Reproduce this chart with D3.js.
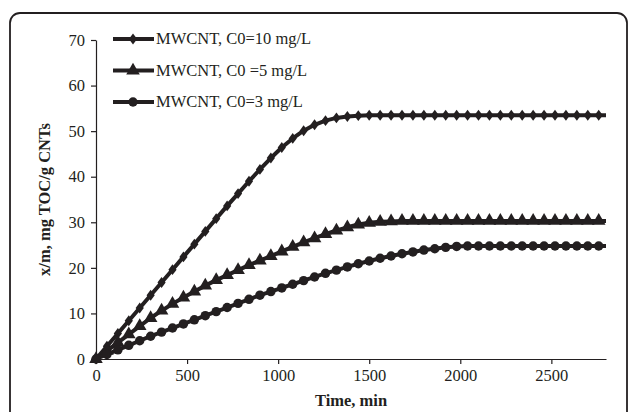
<!DOCTYPE html>
<html>
<head>
<meta charset="utf-8">
<script src="https://cdn.jsdelivr.net/npm/d3@7"></script>
<style>
  body { margin: 0; background: #fff; }
  text { font-family: "Liberation Serif", "Times New Roman", serif; fill: #231f20; }
</style>
</head>
<body>
<div class="chart"></div>
<script>
// sampling times, min (every 60 min)
const times = d3.range(0, 2761, 60);
const xEnd = 2800;

const c10 = [0, 2.8, 5.6, 8.4, 11.2, 14.0, 16.8, 19.6, 22.4, 25.2, 28.0, 30.8, 33.6, 36.3, 39.0, 41.6,
  44.1, 46.4, 48.4, 50.1, 51.4, 52.3, 52.9, 53.2, 53.4, 53.5, 53.5, 53.5, 53.5, 53.5, 53.5, 53.5,
  53.5, 53.5, 53.5, 53.5, 53.5, 53.5, 53.5, 53.5, 53.5, 53.5, 53.5, 53.5, 53.5, 53.5, 53.5];
const c5 = [0, 1.8, 3.6, 5.4, 7.2, 9.0, 10.6, 12.1, 13.5, 14.8, 16.1, 17.3, 18.4, 19.5, 20.6, 21.6,
  22.6, 23.6, 24.6, 25.6, 26.5, 27.4, 28.2, 28.9, 29.5, 29.9, 30.1, 30.2, 30.3, 30.3, 30.3, 30.3,
  30.3, 30.3, 30.3, 30.3, 30.3, 30.3, 30.3, 30.3, 30.3, 30.3, 30.3, 30.3, 30.3, 30.3, 30.3];
const c3 = [0, 1.0, 2.0, 3.0, 4.0, 5.0, 5.9, 6.8, 7.7, 8.6, 9.5, 10.4, 11.3, 12.2, 13.1, 14.0,
  14.8, 15.6, 16.4, 17.2, 18.0, 18.8, 19.5, 20.2, 20.9, 21.5, 22.1, 22.6, 23.1, 23.5, 23.9, 24.2,
  24.5, 24.7, 24.8, 24.8, 24.8, 24.8, 24.8, 24.8, 24.8, 24.8, 24.8, 24.8, 24.8, 24.8, 24.8];

const seriesNames = ["MWCNT, C0=10 mg/L", "MWCNT, C0 =5 mg/L", "MWCNT, C0=3 mg/L"];
const xTicks = [0, 500, 1000, 1500, 2000, 2500];
const yTicks = [0, 10, 20, 30, 40, 50, 60, 70];

const width = 629, height = 412;
const margin = { top: 40, right: 23, bottom: 53, left: 96 };
const ink = "#231f20";

const svg = d3.select(".chart")
  .append("svg")
  .attr("width", width)
  .attr("height", height);

// outer rounded frame (bottom runs off the picture)
svg.append("rect")
  .attr("x", 10).attr("y", 13)
  .attr("width", 617).attr("height", 440)
  .attr("rx", 10)
  .attr("fill", "none")
  .attr("stroke", ink)
  .attr("stroke-width", 1.8);

const x = d3.scaleLinear()
  .domain([0, xEnd])
  .range([margin.left, width - margin.right]);

const y = d3.scaleLinear()
  .domain([0, 70])
  .range([height - margin.bottom, margin.top]);

const xAxis = g => g
  .attr("transform", `translate(0,${height - margin.bottom})`)
  .call(d3.axisBottom(x).tickValues(xTicks).tickFormat(d3.format("d")).tickSize(5).tickPadding(5).tickSizeOuter(0))
  .call(g => g.selectAll("text").attr("font-size", 16.5).attr("font-family", "Liberation Serif"));

const yAxis = g => g
  .attr("transform", `translate(${margin.left},0)`)
  .call(d3.axisLeft(y).tickValues(yTicks).tickSize(5).tickPadding(6).tickSizeOuter(0))
  .call(g => g.selectAll("text").attr("font-size", 16.5).attr("font-family", "Liberation Serif"));

svg.append("g").call(xAxis);
svg.append("g").call(yAxis);
svg.selectAll(".domain, .tick line").attr("stroke", ink).attr("stroke-width", 1.2);
svg.selectAll(".tick text").attr("fill", ink);

svg.append("text")
  .attr("x", x(1400))
  .attr("y", height - 6)
  .attr("text-anchor", "middle")
  .attr("font-weight", "bold")
  .attr("font-size", 16.5)
  .text("Time, min");

svg.append("text")
  .attr("transform", `translate(50,${y(35)}) rotate(-90)`)
  .attr("text-anchor", "middle")
  .attr("font-weight", "bold")
  .attr("font-size", 16.5)
  .text("x/m, mg TOC/g CNTs");

// fat diamond like the one in the source figure
const diamond = {
  draw(context, size) {
    const h = Math.sqrt(size) * 0.68, w = h * 0.75;
    context.moveTo(0, -h);
    context.lineTo(w, 0);
    context.lineTo(0, h);
    context.lineTo(-w, 0);
    context.closePath();
  }
};

const symbols = [diamond, d3.symbolTriangle, d3.symbolCircle];
const symSizes = [64, 80, 70];
const allSeries = [c10, c5, c3];

const line = d3.line()
  .x(d => x(d.t))
  .y(d => y(d.v));

allSeries.forEach((vals, i) => {
  const pts = times.map((t, j) => ({ t: t, v: vals[j] }));
  const linePts = pts.concat([{ t: xEnd, v: vals[vals.length - 1] }]);

  svg.append("path")
    .datum(linePts)
    .attr("fill", "none")
    .attr("stroke", ink)
    .attr("stroke-width", 4)
    .attr("stroke-linejoin", "round")
    .attr("d", line);

  svg.append("g")
    .selectAll("path")
    .data(pts)
    .join("path")
    .attr("transform", d => `translate(${x(d.t)},${y(d.v)})`)
    .attr("d", d3.symbol().type(symbols[i]).size(symSizes[i]))
    .attr("fill", ink);
});

// legend
const legend = svg.append("g");
seriesNames.forEach((name, i) => {
  const ly = 39 + i * 31.5;
  legend.append("line")
    .attr("x1", 113).attr("x2", 154)
    .attr("y1", ly).attr("y2", ly)
    .attr("stroke", ink)
    .attr("stroke-width", 4);
  legend.append("path")
    .attr("transform", `translate(133,${ly})`)
    .attr("d", d3.symbol().type(symbols[i]).size(symSizes[i]))
    .attr("fill", ink);
  legend.append("text")
    .attr("x", 156)
    .attr("y", ly + 5)
    .attr("font-size", 16.5)
    .text(name);
});
</script>
</body>
</html>
